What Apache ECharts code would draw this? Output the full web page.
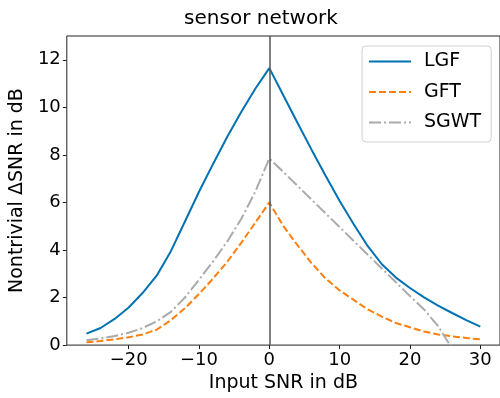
<!DOCTYPE html>
<html>
<head>
<meta charset="utf-8">
<script src="https://cdn.jsdelivr.net/npm/echarts@6/dist/echarts.min.js"></script>
<style>
  html, body { margin: 0; padding: 0; background: #fff; }
  #chart { width: 500px; height: 398px; }
</style>
</head>
<body>
<div id="chart"></div>
<script>
// input SNR in dB
const snr = [-26, -24, -22, -20, -18, -16, -14, -12, -10, -8, -6, -4, -2, 0,
  2, 4, 6, 8, 10, 12, 14, 16, 18, 20, 22, 24, 26, 28, 30];

const lgf = [0.48, 0.72, 1.1, 1.58, 2.2, 2.93, 3.95, 5.2, 6.45, 7.62, 8.75, 9.8, 10.78, 11.65,
  10.5, 9.35, 8.22, 7.12, 6.06, 5.08, 4.16, 3.4, 2.84, 2.4, 2.01, 1.66, 1.35, 1.05, 0.78];
const gft = [0.12, 0.17, 0.24, 0.33, 0.45, 0.65, 1.05, 1.55, 2.15, 2.8, 3.5, 4.3, 5.15, 6.0,
  5.0, 4.2, 3.45, 2.8, 2.3, 1.9, 1.5, 1.2, 0.93, 0.75, 0.57, 0.45, 0.37, 0.3, 0.24];
const sgwt = [0.2, 0.28, 0.38, 0.52, 0.72, 1.0, 1.4, 2.0, 2.75, 3.52, 4.35, 5.3, 6.45, 7.85,
  7.28, 6.7, 6.12, 5.54, 4.96, 4.38, 3.8, 3.22, 2.64, 2.06, 1.5, 0.8, -0.15, null, null];

const xTicks = [-20, -10, 0, 10, 20, 30];
const yTicks = [0, 2, 4, 6, 8, 10, 12];

const font = 'DejaVu Sans';
const minus = v => String(v).replace('-', '\u2212');
const pairs = ys => snr.map((x, i) => [x, ys[i]]);

const chart = echarts.init(document.getElementById('chart'));

const option = {
  animation: false,
  title: {
    text: 'sensor network',
    left: 256,
    top: 4,
    textAlign: 'center',
    textStyle: { fontFamily: font, fontSize: 20, fontWeight: 'normal', color: '#000' },
  },
  legend: {
    orient: 'vertical',
    left: 362,
    top: 46,
    padding: [6, 10, 10, 6],
    itemWidth: 42,
    itemHeight: 14,
    itemGap: 11.5,
    itemStyle: { opacity: 0 },
    backgroundColor: 'rgba(255,255,255,0.8)',
    borderColor: '#d0d0d0',
    borderWidth: 1,
    borderRadius: 4,
    textStyle: { fontFamily: font, fontSize: 19, color: '#000', padding: [0, 0, 0, 8] },
    data: ['LGF', 'GFT', 'SGWT'],
  },
  grid: {
    left: 66.4,
    top: 36,
    width: 435.5,
    height: 312,
    show: true,
    borderColor: '#222',
    borderWidth: 1,
  },
  xAxis: {
    type: 'value',
    min: -28.8,
    max: 32.8,
    name: 'Input SNR in dB',
    nameLocation: 'middle',
    nameGap: 28,
    nameTextStyle: { fontFamily: font, fontSize: 19, color: '#000' },
    axisLine: { show: false, onZero: false },
    axisTick: { show: true, customValues: xTicks, length: 4, lineStyle: { color: '#222' } },
    axisLabel: { customValues: xTicks, formatter: minus, fontFamily: font, fontSize: 18, color: '#000', margin: 6 },
    splitLine: { show: false },
  },
  yAxis: {
    type: 'value',
    min: 0,
    max: 13,
    name: 'Nontrivial \u0394SNR in dB',
    nameLocation: 'middle',
    nameRotate: 90,
    nameGap: 31,
    nameTextStyle: { fontFamily: font, fontSize: 19, color: '#000' },
    axisLine: { show: false, onZero: false },
    axisTick: { show: true, customValues: yTicks, length: 4, lineStyle: { color: '#222' } },
    axisLabel: { customValues: yTicks, formatter: minus, fontFamily: font, fontSize: 18, color: '#000', margin: 6 },
    splitLine: { show: false },
  },
  series: [
    {
      name: 'LGF',
      type: 'line',
      data: pairs(lgf),
      symbol: 'none',
      clip: true,
      color: '#0072b2',
      lineStyle: { width: 2, color: '#0072b2' },
      markLine: {
        silent: true,
        symbol: 'none',
        label: { show: false },
        lineStyle: { color: '#555', width: 1.5, type: 'solid' },
        data: [{ xAxis: 0 }],
      },
    },
    {
      name: 'GFT',
      type: 'line',
      data: pairs(gft),
      symbol: 'none',
      clip: true,
      color: '#ff7f0e',
      lineStyle: { width: 2, color: '#ff7f0e', type: [7, 3] },
    },
    {
      name: 'SGWT',
      type: 'line',
      data: pairs(sgwt),
      symbol: 'none',
      clip: true,
      color: '#aaaaaa',
      lineStyle: { width: 2, color: '#aaaaaa', type: [12, 3, 2, 3] },
    },
  ],
};

chart.setOption(option);
</script>
</body>
</html>
